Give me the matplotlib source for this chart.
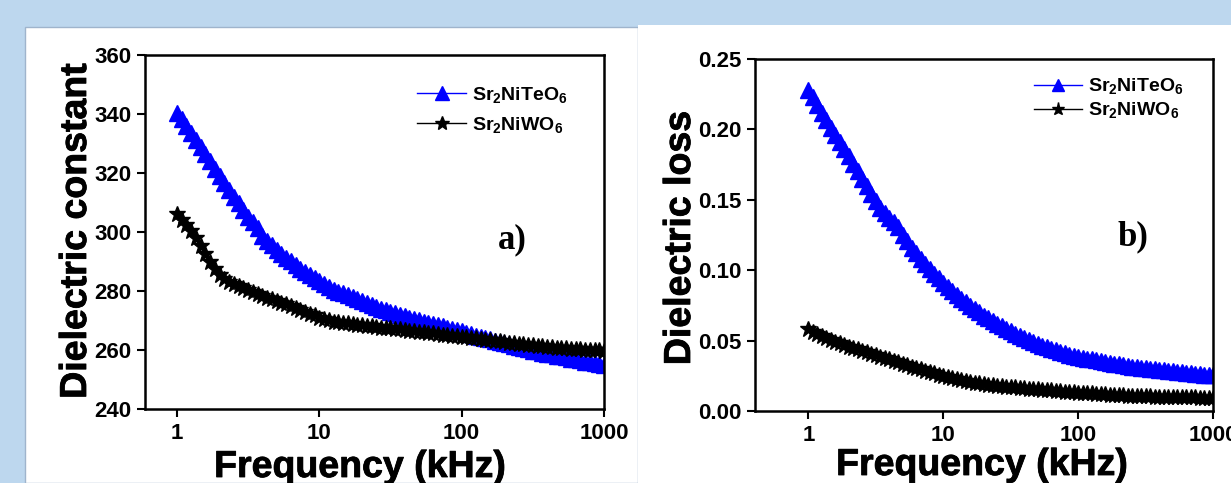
import matplotlib
matplotlib.use('Agg')
import matplotlib.pyplot as plt
import matplotlib.patches as patches
import matplotlib.patheffects as pe
import numpy as np

plt.rcParams['font.family'] = ['Liberation Sans', 'DejaVu Sans']
plt.rcParams['font.weight'] = 'bold'
plt.rcParams['mathtext.fontset'] = 'custom'
plt.rcParams['mathtext.rm'] = 'Liberation Sans:bold'
plt.rcParams['mathtext.it'] = 'Liberation Sans:bold'
plt.rcParams['mathtext.bf'] = 'Liberation Sans:bold'

# frequency sweep (kHz), 30 points per decade
freq = np.logspace(0, 3, 91)

# dielectric constant
eps_te = [340.5, 338.2, 335.8, 333.5, 331.2, 328.8, 326.5, 324, 321.5, 319,
          316.7, 314.3, 312, 309.7, 307.3, 305, 303.5, 301.5, 298.5, 297,
          295.5, 294, 292.7, 291.3, 290, 288.8, 287.6, 286.5, 285.5, 284.5,
          283.5, 282.5, 281.5, 280.5, 279.8, 279.2, 278.5, 277.8, 277.2, 276.5,
          275.8, 275.2, 274.5, 274, 273.5, 273, 272.5, 272, 271.5, 271,
          270.5, 270, 269.6, 269.2, 268.8, 268.4, 268, 267.6, 267.2, 266.8,
          266.4, 265.9, 265.4, 264.9, 264.5, 264, 263.6, 263.2, 262.7, 262.3,
          261.9, 261.4, 261, 260.6, 260.2, 259.8, 259.5, 259.1, 258.8, 258.5,
          258.1, 257.8, 257.5, 257.1, 256.8, 256.5, 256.1, 255.8, 255.5, 255.2,
          254.9]
eps_w = [306, 304, 302.3, 300.5, 298, 295.2, 292.5, 289.8, 287.5, 285.5,
         284.2, 283.2, 282.3, 281.6, 280.9, 280.2, 279.6, 278.9, 278.3, 277.7,
         277.2, 276.6, 276, 275.5, 274.9, 274.3, 273.6, 273, 272.3, 271.7,
         271, 270.5, 270, 269.6, 269.4, 269.2, 269, 268.8, 268.6, 268.4,
         268.2, 268, 267.8, 267.6, 267.5, 267.3, 267.1, 267, 266.8, 266.6,
         266.4, 266.2, 266, 265.8, 265.6, 265.4, 265.2, 265, 264.8, 264.7,
         264.5, 264.3, 264.1, 263.9, 263.7, 263.5, 263.3, 263.1, 262.9, 262.7,
         262.5, 262.3, 262.1, 261.9, 261.8, 261.6, 261.4, 261.3, 261.1, 261,
         260.8, 260.7, 260.6, 260.4, 260.3, 260.2, 260.1, 260, 259.9, 259.9,
         259.8]

# dielectric loss
loss_te = [0.228, 0.2227, 0.2173, 0.212, 0.2067, 0.2013, 0.196, 0.191, 0.186, 0.181,
           0.1757, 0.1703, 0.165, 0.1597, 0.1543, 0.149, 0.1445, 0.1405, 0.137, 0.134,
           0.1305, 0.125, 0.1205, 0.116, 0.112, 0.1082, 0.1045, 0.101, 0.0975, 0.0942,
           0.091, 0.088, 0.0852, 0.0825, 0.0798, 0.0772, 0.0748, 0.0724, 0.0701, 0.0678,
           0.0658, 0.0639, 0.0620, 0.0602, 0.0584, 0.0566, 0.0550, 0.0534, 0.0518, 0.0504,
           0.0490, 0.0476, 0.0464, 0.0452, 0.0440, 0.0430, 0.0420, 0.0410, 0.0401, 0.0392,
           0.0384, 0.0377, 0.0371, 0.0366, 0.0360, 0.0354, 0.0348, 0.0342, 0.0337, 0.0331,
           0.0326, 0.0321, 0.0316, 0.0312, 0.0307, 0.0303, 0.0299, 0.0295, 0.0291, 0.0288,
           0.0284, 0.0281, 0.0278, 0.0274, 0.0271, 0.0268, 0.0265, 0.0262, 0.0259, 0.0257,
           0.0254]
loss_w = [0.0580, 0.0564, 0.0548, 0.0533, 0.0519, 0.0506, 0.0493, 0.0481, 0.0469, 0.0458,
          0.0448, 0.0437, 0.0427, 0.0417, 0.0407, 0.0397, 0.0387, 0.0376, 0.0366, 0.0356,
          0.0345, 0.0335, 0.0325, 0.0315, 0.0305, 0.0295, 0.0286, 0.0276, 0.0267, 0.0258,
          0.0249, 0.0241, 0.0233, 0.0226, 0.0219, 0.0213, 0.0207, 0.0202, 0.0197, 0.0192,
          0.0188, 0.0184, 0.0180, 0.0177, 0.0173, 0.0170, 0.0167, 0.0165, 0.0162, 0.0159,
          0.0157, 0.0154, 0.0151, 0.0149, 0.0146, 0.0143, 0.0141, 0.0138, 0.0136, 0.0133,
          0.0131, 0.0129, 0.0127, 0.0125, 0.0123, 0.0121, 0.0119, 0.0117, 0.0115, 0.0113,
          0.0112, 0.0110, 0.0109, 0.0108, 0.0106, 0.0105, 0.0104, 0.0102, 0.0101, 0.0100,
          0.0100, 0.0099, 0.0098, 0.0098, 0.0097, 0.0096, 0.0096, 0.0095, 0.0095, 0.0094,
          0.0094]

labels = [r'Sr$_2$NiTeO$_6$', r'Sr$_2$NiWO$_6$']
xticks = [1, 10, 100, 1000]

W, H = 1231, 483
fig = plt.figure(figsize=(W / 100, H / 100), dpi=100, facecolor='#BDD7EE')

# white panels behind the two plots
fig.patches.append(patches.Rectangle((25 / W, 0), (638 - 25) / W, (H - 27) / H,
                                     transform=fig.transFigure, facecolor='white',
                                     edgecolor='#9FB4CC', lw=1, zorder=-2))
fig.patches.append(patches.Rectangle((638 / W, 0), 1 - 638 / W, (H - 25) / H,
                                     transform=fig.transFigure, facecolor='white',
                                     edgecolor='none', zorder=-2))

heavy = [pe.withStroke(linewidth=0.6, foreground='black')]


def make_axes(px):
    l, t, r, b = px
    return fig.add_axes([l / W, 1 - b / H, (r - l) / W, (b - t) / H])


def style(ax, xlim):
    ax.set_xscale('log')
    ax.set_xlim(*xlim)
    ax.set_xticks(xticks)
    ax.set_xticklabels([str(v) for v in xticks])
    ax.xaxis.set_minor_locator(matplotlib.ticker.NullLocator())
    ax.tick_params(direction='out', length=6, width=1.5, labelsize=16, pad=4)
    for s in ax.spines.values():
        s.set_linewidth(1.8)


ax1 = make_axes((145, 55, 604, 409))
ax1.plot(freq, eps_te, '-^', color='blue', ms=11.5, lw=1, label=labels[0])
ax1.plot(freq, eps_w, '-*', color='black', ms=12, lw=1, label=labels[1])
style(ax1, (0.596, 1000))
ax1.set_ylim(240, 360)
ax1.set_yticks(range(240, 361, 20))
ax1.legend(loc='upper left', bbox_to_anchor=(0.555, 0.965), frameon=False, fontsize=14,
           handlelength=2.5, handletextpad=0.3, labelspacing=0.5, markerscale=0.9)
ax1.text(0.80, 0.477, 'a)', transform=ax1.transAxes, fontsize=25, fontweight='bold',
         family='Liberation Serif', ha='center', va='center')

ax2 = make_axes((755, 59, 1213, 411))
ax2.plot(freq, loss_te, '-^', color='blue', ms=11.5, lw=1, label=labels[0])
ax2.plot(freq, loss_w, '-*', color='black', ms=12, lw=1, label=labels[1])
style(ax2, (0.402, 1000))
ax2.set_ylim(0, 0.25)
ax2.set_yticks([0, 0.05, 0.10, 0.15, 0.20, 0.25])
ax2.set_yticklabels(['%.2f' % v for v in [0, 0.05, 0.10, 0.15, 0.20, 0.25]])
ax2.legend(loc='upper left', bbox_to_anchor=(0.57, 1.0), frameon=False, fontsize=14,
           handlelength=2.5, handletextpad=0.3, labelspacing=0.2, markerscale=0.8)
ax2.text(0.825, 0.494, 'b)', transform=ax2.transAxes, fontsize=25, fontweight='bold',
         family='Liberation Serif', ha='center', va='center')

for x, y, s in [(76, 231, 'Dielectric constant'), (680, 238, 'Dielectric loss')]:
    fig.text(x / W, 1 - y / H, s, rotation=90, fontsize=27, fontweight='bold',
             ha='center', va='center', path_effects=heavy)
for x, y in [(360, 477), (982, 475)]:
    fig.text(x / W, 1 - y / H, 'Frequency (kHz)', fontsize=27, fontweight='bold',
             ha='center', va='baseline', path_effects=heavy)

plt.savefig('out.png', dpi=100, facecolor=fig.get_facecolor())
